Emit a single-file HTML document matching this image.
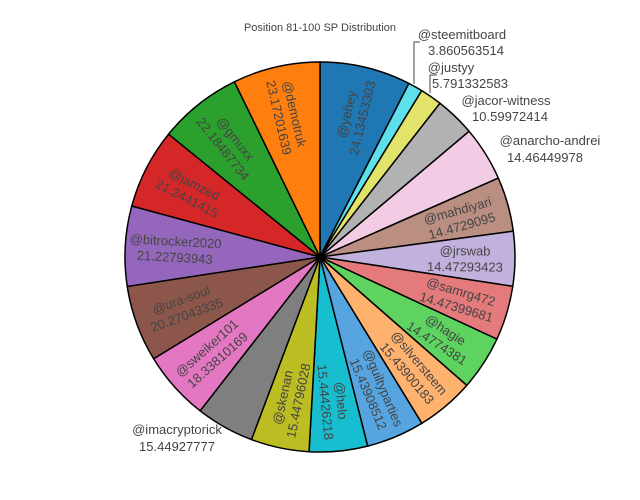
<!DOCTYPE html>
<html><head><meta charset="utf-8"><style>
html,body{margin:0;padding:0;background:#fff;}
svg{display:block;font-family:"Liberation Sans",sans-serif;}
</style></head><body>
<svg id="s" width="640" height="500" xmlns="http://www.w3.org/2000/svg">
<text x="320" y="31" text-anchor="middle" font-size="11" fill="#444">Position 81-100 SP Distribution</text>
<g id="g"></g>
<polyline points="414,84 414,42 420,42" fill="none" stroke="#444" stroke-width="1"/>
<polyline points="430,93 430,75 437,75" fill="none" stroke="#444" stroke-width="1"/>
<g font-size="13" fill="#444" text-anchor="middle">
<text x="462" y="39">@steemitboard</text><text x="466" y="55">3.860563514</text>
<text x="451" y="72">@justyy</text><text x="470" y="88">5.791332583</text>
<text x="506" y="105">@jacor-witness</text><text x="510" y="121">10.59972414</text>
<text x="550" y="145">@anarcho-andrei</text><text x="545" y="162">14.46449978</text>
<text x="177" y="434">@imacryptorick</text><text x="177" y="451">15.44927777</text>
</g>
</svg>
<script>
var d=[["@yehey","24.13453303","#1f77b4",1],["@steemitboard","3.860563514","#5ddfec",0],["@justyy","5.791332583","#e2e36a",0],["@jacor-witness","10.59972414","#b2b2b2",0],["@anarcho-andrei","14.46449978","#f2cbe5",0],["@mahdiyari","14.4729095","#ba8f82",1],["@jrswab","14.47293423","#c3b1dd",1],["@samrg472","14.47399681","#e47a7b",1],["@hagie","14.4774381","#5fd35f",1],["@silversteem","15.43900183","#ffb16e",1],["@guiltyparties","15.43908512","#57a5e0",1],["@helo","15.44426218","#17becf",1],["@skenan","15.44796028","#bcbd22",1],["@imacryptorick","15.44927777","#7f7f7f",0],["@sweiker101","18.33810169","#e377c2",1],["@ura-soul","20.27043335","#8c564b",1],["@bitrocker2020","21.22793943","#9467bd",1],["@jamzed","21.2441415","#d62728",1],["@gmuxx","22.18487734","#2ca02c",1],["@demotruk","23.17201639","#ff7f0e",1]];
var cx=320,cy=257,r=195,tot=0;d.forEach(function(x){tot+=parseFloat(x[1]);});
var g=document.getElementById("g"),h="",t="",a0=-90;
d.forEach(function(x){var a1=a0+parseFloat(x[1])/tot*360;var p=Math.PI/180;
var x0=cx+r*Math.cos(a0*p),y0=cy+r*Math.sin(a0*p),x1=cx+r*Math.cos(a1*p),y1=cy+r*Math.sin(a1*p);
h+='<path d="M'+cx+','+cy+'L'+x0.toFixed(2)+','+y0.toFixed(2)+'A'+r+','+r+' 0 '+((a1-a0)>180?1:0)+' 1 '+x1.toFixed(2)+','+y1.toFixed(2)+'Z" fill="'+x[2]+'" stroke="#000" stroke-width="1.5"/>';
if(x[3]){var m=(a0+a1)/2,tx=cx+145*Math.cos(m*p),ty=cy+145*Math.sin(m*p),rot=m;while(rot>90)rot-=180;while(rot<=-90)rot+=180;
t+='<g transform="translate('+tx.toFixed(1)+','+ty.toFixed(1)+') rotate('+rot.toFixed(1)+')"><text y="-3" font-size="13" fill="#444" text-anchor="middle">'+x[0]+'</text><text y="13" font-size="13" fill="#444" text-anchor="middle">'+x[1]+'</text></g>';}
a0=a1;});
g.innerHTML=h+t;
</script>
</body></html>
